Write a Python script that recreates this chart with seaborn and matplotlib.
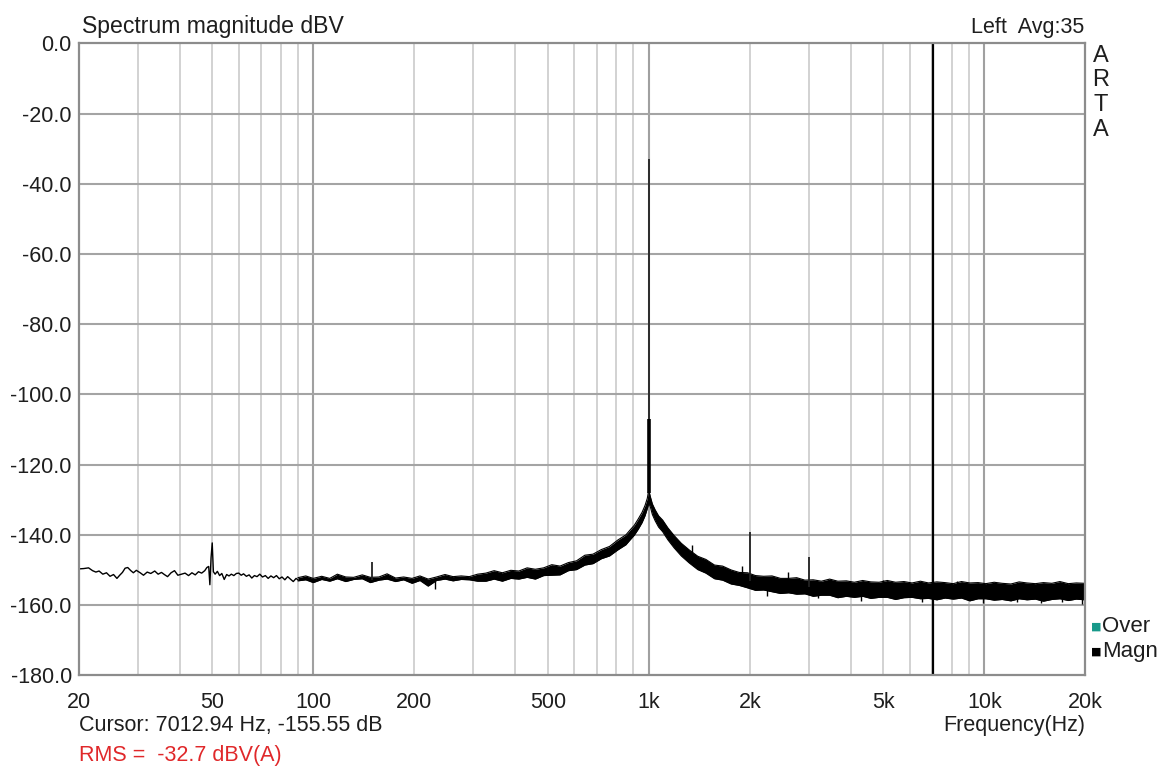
import numpy as np
import matplotlib
matplotlib.use("Agg")
import matplotlib.pyplot as plt
import seaborn as sns

# --- Data ---
X_TICKS = [20, 50, 100, 200, 500, 1000, 2000, 5000, 10000, 20000]
X_TICK_LABELS = ["20", "50", "100", "200", "500", "1k", "2k", "5k", "10k", "20k"]
Y_TICKS = [0, -20, -40, -60, -80, -100, -120, -140, -160, -180]

# thin part of the trace (few FFT bins per pixel), 20-90 Hz
thin_freq = [20, 20.7, 21.4, 22.0, 22.5, 23.0, 23.6, 24.2, 24.8, 25.4, 26.0, 26.5,
             27.0, 27.5, 28.0, 28.6, 29.1, 29.7, 30.5, 31.2, 32.0, 32.8, 33.7, 34.5,
             35.3, 36.0, 36.8, 37.7, 38.6, 39.5, 40.5, 41.5, 42.5, 43.5, 44.5, 45.5,
             46.5, 47.5, 48.2, 48.8, 49.2, 49.6, 50.0, 50.4, 51.0, 51.8, 52.6, 53.4,
             54.3, 55.2, 56.1, 57.0, 58.0, 59.0, 60.0, 61.0, 62.0, 63.2, 64.4, 65.6,
             66.8, 68.0, 69.3, 70.6, 72.0, 73.4, 74.8, 76.2, 77.7, 79.2, 80.7, 82.3,
             83.9, 85.5, 87.2, 88.9, 90.0]
thin_level = [-149.7, -149.6, -149.4, -150.2, -150.6, -150.3, -151.2, -150.8, -151.8, -151.3, -152.4, -151.5,
              -150.7, -149.5, -149.3, -150.2, -150.8, -150.1, -150.8, -151.5, -150.6, -151.0, -150.3, -151.2,
              -150.7, -151.3, -151.9, -150.8, -150.2, -151.5, -151.2, -150.9, -151.6, -150.8, -151.4, -150.5,
              -150.9, -150.2, -149.3, -149.0, -154.2, -146.5, -142.3, -150.5, -151.2, -150.4, -151.6, -151.0,
              -152.7, -151.3, -151.7, -151.2, -151.6, -151.0, -150.9, -151.5, -151.1, -151.8, -151.4, -152.3,
              -151.6, -151.9, -151.2, -152.0, -151.6, -152.4, -151.7, -152.2, -151.6, -152.5, -152.0, -152.8,
              -151.9, -152.6, -153.3, -152.4, -152.8]

# dense part of the trace (averaged spectrum), drawn as upper / lower envelope
band_freq = [90, 95, 100, 106, 112, 118, 125, 132, 140, 148, 157, 166, 176, 186, 197, 208,
             220, 233, 247, 261, 276, 292, 309, 327, 346, 366, 388, 410, 434, 459, 486, 514,
             544, 576, 609, 645, 682, 722, 764, 808, 855, 880, 905, 930, 955, 975, 990, 1000,
             1010, 1025, 1045, 1070, 1100, 1140, 1190, 1250, 1320, 1400, 1480, 1570, 1660, 1760,
             1860, 1970, 2080, 2200, 2330, 2470, 2610, 2760, 2920, 3090, 3270, 3460, 3660, 3880,
             4100, 4340, 4590, 4860, 5140, 5440, 5760, 6090, 6450, 6820, 7220, 7640, 8080, 8550,
             9050, 9580, 10100, 10700, 11300, 12000, 12700, 13400, 14200, 15000, 15900, 16800,
             17800, 18800, 19900]
band_hi = [-152.2, -151.7, -152.4, -151.8, -152.4, -151.2, -152.0, -152.1, -151.4, -152.1, -152.0, -151.1,
           -152.3, -152.0, -152.4, -151.7, -152.6, -152.0, -151.3, -151.9, -151.7, -151.9, -151.2,
           -150.9, -150.2, -150.8, -150.1, -150.3, -149.4, -149.8, -149.4, -148.5, -148.9, -147.9, -147.4,
           -145.8, -145.5, -144.2, -143.3, -141.5, -140.0, -138.6, -137.3, -135.5, -133.6, -131.6,
           -129.6, -127.2,
           -129.0, -131.2, -132.9, -134.6, -135.8, -138.0, -140.2, -142.4, -144.3, -146.1, -147.0, -148.6,
           -148.9, -150.0, -150.7, -150.8, -151.6, -151.8, -151.7, -152.4, -152.4, -152.2, -152.9, -152.8,
           -153.2, -152.6, -153.2, -153.1, -153.5, -153.0, -153.4, -153.5, -153.0, -153.5, -153.3, -153.7,
           -153.2, -153.7, -153.4, -153.6, -153.9, -153.3, -153.7, -153.6, -153.9, -153.5, -153.8, -154.0,
           -153.4, -153.7, -153.9, -153.6, -153.8, -153.3, -153.9, -153.7, -153.8]
band_lo = [-153.1, -152.8, -153.6, -152.7, -153.2, -152.5, -153.3, -152.7, -152.5, -153.6, -152.9, -152.6,
           -153.3, -152.8, -153.8, -153.0, -154.6, -153.0, -152.6, -153.1, -152.7, -152.8, -153.2,
           -153.2, -152.6, -153.2, -152.4, -152.6, -152.1, -152.6, -151.6, -151.5, -151.4, -150.2, -149.9,
           -148.6, -148.2, -146.8, -146.0, -144.3, -142.8, -141.4, -140.1, -138.4, -136.5, -134.5,
           -132.5, -131.0,
           -131.9, -134.2, -136.0, -137.8, -139.1, -141.4, -143.7, -146.0, -148.0, -149.9, -150.9, -152.5,
           -152.9, -154.0, -154.4, -155.1, -155.8, -155.7, -156.2, -156.7, -156.5, -156.9, -156.8, -157.5,
           -157.2, -157.2, -157.9, -157.5, -157.8, -157.5, -158.1, -157.8, -157.8, -158.4, -157.9, -157.8,
           -158.2, -158.1, -158.5, -158.0, -158.3, -158.0, -158.8, -158.2, -158.2, -158.6, -158.4, -158.8,
           -158.2, -158.5, -158.3, -158.9, -158.4, -158.2, -158.7, -158.3, -158.5]

# isolated noise excursions sticking out of the band
spur_freq = [230, 1350, 1900, 2250, 2600, 3200, 4300, 5000, 6500, 8300, 9900, 12500, 14800, 17000, 19600]
spur_from = [-153.0, -146.0, -152.0, -154.0, -153.0, -155.0, -155.0, -155.0, -155.5, -156.0,
             -156.0, -156.0, -156.0, -156.0, -156.0]
spur_to = [-155.5, -143.0, -149.0, -157.5, -150.5, -158.0, -158.8, -152.8, -159.2, -153.0,
           -159.4, -159.0, -159.5, -159.2, -159.6]

# harmonic / hum spikes
spike_freq = [150, 1000, 2000, 3000]
spike_base = [-152.8, -128.0, -153.0, -154.8]
spike_top = [-147.7, -33.0, -139.2, -146.3]
fund_freq = 1000
fund_thick_top = -107.0

cursor_freq = 7012.94
cursor_text = "Cursor: 7012.94 Hz, -155.55 dB"
rms_text = "RMS =  -32.7 dBV(A)"

# --- Style ---
W, H = 1163, 767
sns.set_theme(style="white")
plt.rcParams['font.family'] = ['Liberation Sans', 'DejaVu Sans']
TXT = "#1e1e1e"

fig = plt.figure(figsize=(W / 100, H / 100), dpi=100)
ax_l, ax_r, ax_t, ax_b = 78.7, 1085.3, 43.3, 675.3
ax = fig.add_axes([ax_l / W, 1 - ax_b / H, (ax_r - ax_l) / W, (ax_b - ax_t) / H])
ax.set_xscale("log")
ax.set_xlim(20, 20000)
ax.set_ylim(-180, 0)

# grid: 2..9 multiples light, decades darker, every 20 dB horizontal
minor_lines = [m * 10 ** e for e in (1, 2, 3) for m in range(2, 10) if 20 < m * 10 ** e < 20000]
for f in minor_lines:
    ax.axvline(f, color="#d2d2d2", lw=1.4, zorder=0)
for f in (100, 1000, 10000):
    ax.axvline(f, color="#a0a0a0", lw=1.5, zorder=0)
for v in Y_TICKS[1:-1]:
    ax.axhline(v, color="#a4a4a4", lw=1.5, zorder=0)

# trace
sns.lineplot(x=thin_freq, y=thin_level, ax=ax, color="black", lw=1.0,
             estimator=None, sort=False, zorder=3)
ax.fill_between(band_freq, band_lo, band_hi, color="black", lw=0, zorder=3)
sns.lineplot(x=band_freq, y=band_hi, ax=ax, color="black", lw=0.8, estimator=None, sort=False, zorder=3)
sns.lineplot(x=band_freq, y=band_lo, ax=ax, color="black", lw=0.8, estimator=None, sort=False, zorder=3)
ax.vlines(spur_freq, spur_from, spur_to, color="black", lw=1.0, zorder=3)
ax.vlines(spike_freq, spike_base, spike_top, color="#222222", lw=1.3, zorder=4)
ax.vlines([fund_freq], [spike_base[1]], [fund_thick_top], color="black", lw=2.6, zorder=4)

# cursor
ax.axvline(cursor_freq, color="black", lw=1.6, zorder=5)

# axes cosmetics
ax.set_xticks(X_TICKS)
ax.set_xticklabels(X_TICK_LABELS)
ax.set_xticks([], minor=True)
ax.set_yticks(Y_TICKS)
ax.set_yticklabels([f"{v:.1f}" for v in Y_TICKS])
ax.tick_params(axis="both", length=0, labelsize=15.5, colors=TXT)
ax.tick_params(axis="x", pad=12)
ax.tick_params(axis="y", pad=5)
ax.set_xlabel("")
ax.set_ylabel("")
for s in ax.spines.values():
    s.set_color("#8c8c8c")
    s.set_linewidth(1.6)
    s.set_zorder(6)

# texts around the plot
fig.text(82 / W, 1 - 33.5 / H, "Spectrum magnitude dBV", fontsize=16.6, color=TXT,
         ha="left", va="baseline")
fig.text(1084 / W, 1 - 33.5 / H, "Left  Avg:35", fontsize=15.5, color=TXT,
         ha="right", va="baseline")
for letter, yc in zip("ARTA", (56.5, 80.5, 105, 129.5)):
    fig.text(1100.7 / W, 1 - yc / H, letter, fontsize=17, color=TXT, ha="center", va="center")

fig.text(1096 / W, 1 - 627 / H, "\u25a0", fontsize=8, color="#17998a", ha="center", va="center",
         family="DejaVu Sans")
fig.text(1102 / W, 1 - 627 / H, "Over", fontsize=16, color=TXT, ha="left", va="center")
fig.text(1096 / W, 1 - 652 / H, "\u25a0", fontsize=8, color="black", ha="center", va="center",
         family="DejaVu Sans")
fig.text(1102 / W, 1 - 652 / H, "Magn", fontsize=16, color=TXT, ha="left", va="center")

fig.text(78.7 / W, 1 - 731.5 / H, cursor_text, fontsize=15.5, color=TXT, ha="left", va="baseline")
fig.text(78.7 / W, 1 - 761.5 / H, rms_text, fontsize=15.5, color="#e0282a", ha="left", va="baseline")
fig.text(1085 / W, 1 - 731.5 / H, "Frequency(Hz)", fontsize=15.5, color=TXT, ha="right", va="baseline")

fig.savefig("out.png", dpi=100, facecolor="white")
